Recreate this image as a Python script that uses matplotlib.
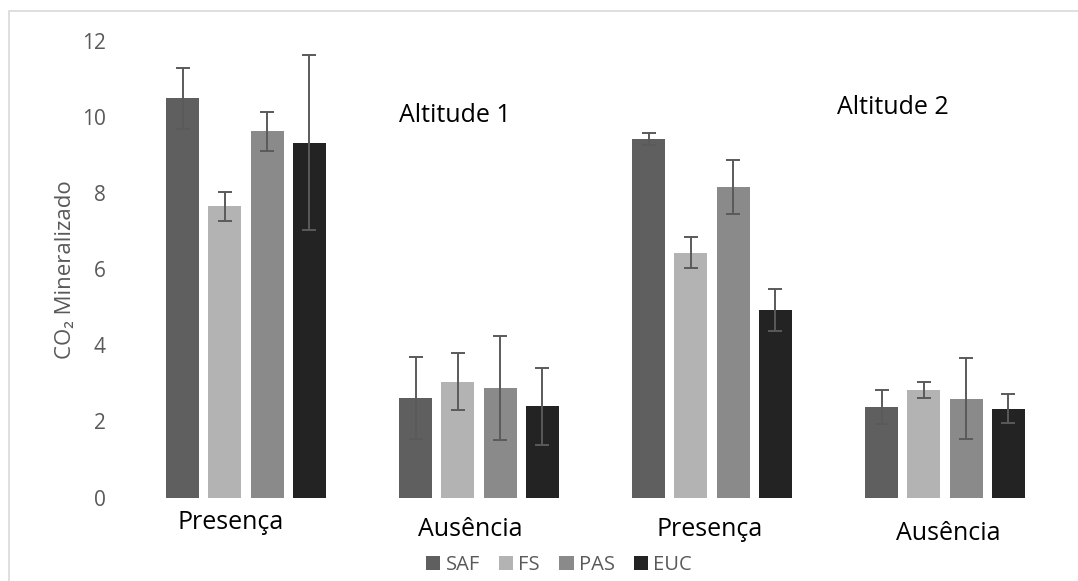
import numpy as np
import matplotlib
matplotlib.use("Agg")
import matplotlib.pyplot as plt
from matplotlib.patches import Patch, Rectangle

plt.rcParams['font.family'] = ['Open Sans', 'DejaVu Sans']

# CO2 mineralizado por tratamento (media e desvio)
categorias = ["Presença", "Ausência", "Presença", "Ausência"]
series = ["SAF", "FS", "PAS", "EUC"]
cores = ["#5f5f5f", "#b3b3b3", "#8a8a8a", "#232323"]

saf = [10.49, 2.61, 9.42, 2.38]
fs = [7.65, 3.05, 6.43, 2.82]
pas = [9.62, 2.88, 8.16, 2.60]
euc = [9.32, 2.40, 4.93, 2.34]

saf_err = [0.80, 1.08, 0.17, 0.45]
fs_err = [0.38, 0.76, 0.41, 0.21]
pas_err = [0.52, 1.37, 0.71, 1.07]
euc_err = [2.30, 1.01, 0.55, 0.39]

valores = [saf, fs, pas, euc]
erros = [saf_err, fs_err, pas_err, euc_err]

fig = plt.figure(figsize=(10.78, 5.81), dpi=100)
# moldura cinza clara do grafico
fig.patches.append(Rectangle((9 / 1078, -0.1), 1.2, (581 - 11) / 581 + 0.1,
                             transform=fig.transFigure, fill=False,
                             edgecolor="#d9d9d9", linewidth=1.2))

ax = fig.add_axes([129.5 / 1078, 0.1435, 932 / 1078, 0.7863])

x = np.arange(len(categorias))
passo = 0.1815
largura = 0.142
for i, (nome, cor, val, err) in enumerate(zip(series, cores, valores, erros)):
    pos = x + (i - 1.5) * passo
    ax.bar(pos, val, largura, color=cor, label=nome, zorder=2)
    ax.errorbar(pos, val, yerr=err, fmt="none", ecolor="#5a5a5a",
                elinewidth=1.4, capsize=4.7, capthick=1.4, zorder=3)

ax.set_xlim(-0.5, len(categorias) - 0.5)
ax.set_ylim(0, 12)
ax.set_yticks(range(0, 13, 2))
ax.tick_params(axis="y", length=0, pad=17, labelsize=15, labelcolor="#595959")
ax.set_xticks([])
for s in ax.spines.values():
    s.set_visible(False)

ax.set_ylabel("CO₂ Mineralizado", fontsize=16, color="#595959", labelpad=4)

# rotulos das categorias, deslocados como no grafico original
desloc_x = [-0.064, -0.039, -0.009, 0.013]
desloc_y = [-0.65, -0.83, -0.85, -0.93]
for xi, nome, dx, dy in zip(x, categorias, desloc_x, desloc_y):
    ax.text(xi + dx, dy, nome, ha="center", va="center", fontsize=18,
            color="black", clip_on=False)

ax.text(0.657, 10.05, "Altitude 1", ha="left", va="center", fontsize=18)
ax.text(2.536, 10.26, "Altitude 2", ha="left", va="center", fontsize=18)

handles = [Patch(facecolor=c, label=n) for c, n in zip(cores, series)]
leg = fig.legend(handles=handles, loc="center", bbox_to_anchor=(0.5186, 0.0275),
                 ncol=4, frameon=False, fontsize=14.5, handlelength=0.72,
                 handleheight=0.72, handletextpad=0.25, columnspacing=0.95)
for t in leg.get_texts():
    t.set_color("#595959")

fig.savefig("out.png", dpi=100)
